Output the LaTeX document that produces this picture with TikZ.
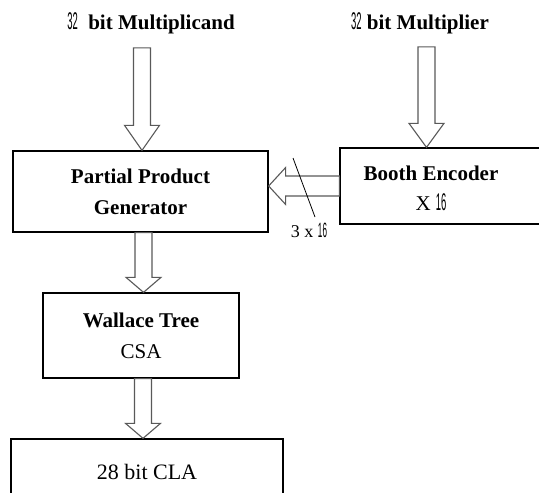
\documentclass[tikz,border=0pt]{standalone}
\usepackage{fontspec}
\setmainfont{Liberation Serif}
\newfontfamily\digitfont{Liberation Sans}
\newcommand{\nar}[1]{{\mdseries\scalebox{0.45}[1.15]{\digitfont #1}}}
\usetikzlibrary{calc}

\begin{document}
\begin{tikzpicture}[x=1pt, y=-1pt,
  blockbox/.style={draw, line width=1.3pt, inner sep=0pt, align=center, font=\fontsize{21}{31}\selectfont\bfseries},
  title/.style={font=\fontsize{21}{25}\selectfont\bfseries, inner sep=2pt},
  downarr/.style={draw=black!65, line width=1.1pt, fill=white,
    to path={let \p1=(\tikztostart), \p2=(\tikztotarget) in
      (\x1-8.5pt,\y1) -- (\x1+8.5pt,\y1) -- (\x1+8.5pt,\y2+#1) -- (\x1+17.5pt,\y2+#1)
      -- (\x1,\y2) -- (\x1-17.5pt,\y2+#1) -- (\x1-8.5pt,\y2+#1) -- cycle}},
  leftarr/.style={draw=black!65, line width=1.1pt, fill=white,
    to path={let \p1=(\tikztostart), \p2=(\tikztotarget) in
      (\x1,\y1+10pt) -- (\x2+#1,\y1+10pt) -- (\x2+#1,\y1+18.5pt) -- (\x2,\y1)
      -- (\x2+#1,\y1-18.5pt) -- (\x2+#1,\y1-10pt) -- (\x1,\y1-10pt) -- cycle}}
]
\useasboundingbox (0,0) rectangle (539,493);
\clip (0,0) rectangle (539,493);

% Inputs
\node[title] (mcand) at (151,23) {\nar{32}\ \ bit Multiplicand};
\node[title] (mplier) at (420,23) {\nar{32} bit Multiplier};

% Blocks
\node[blockbox, minimum width=255pt, minimum height=81pt] (ppg) at (140.5,191.5) {Partial Product\\Generator};
\node[blockbox, minimum width=205pt, minimum height=76pt] (booth) at (442.5,186) {};
\node[font=\fontsize{21}{30}\selectfont\bfseries, align=center] (boothtxt) at (431,188) {Booth Encoder\\{\mdseries X \nar{16}}};
\node[blockbox, minimum width=196pt, minimum height=85pt] (csa) at (141,335.5) {Wallace Tree\\{\mdseries CSA}};
\node[blockbox, minimum width=272pt, minimum height=66pt, font=\fontsize{22}{26}\selectfont] (cla) at (147,472) {28 bit CLA};

% Arrows
\draw[downarr=25pt] ($(ppg.north |- mcand.south)+(1.5,12)$) to (ppg.north);
\draw[downarr=24pt] ($(boothtxt.north |- mplier.south)+(-4.5,11)$) to (booth.north);
\draw[leftarr=17pt] (booth.west) to (ppg.east);
\draw[downarr=15pt] ($(csa.north |- ppg.south)+(2.5,0)$) to (csa.north);
\draw[downarr=15pt] ($(csa.south)+(2,0)$) to (cla.north);

% Bus width
\draw[line width=0.8pt] (293,158) -- (315,217);
\node[font=\fontsize{18}{20}\selectfont] (buswidth) at (309,230) {3 x \nar{16}};

\end{tikzpicture}
\end{document}
